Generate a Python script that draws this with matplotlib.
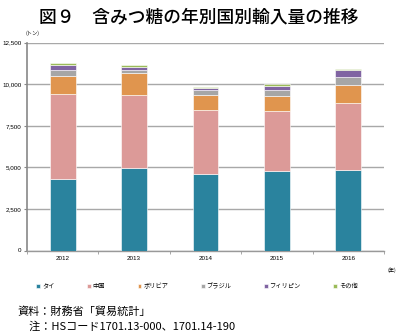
import numpy as np
import matplotlib
matplotlib.use("Agg")
import matplotlib.pyplot as plt

plt.rcParams['font.family'] = ['Noto Sans CJK JP', 'DejaVu Sans']

# data (tonnes)
years = ["2012", "2013", "2014", "2015", "2016"]
countries = ["タイ", "中国", "ボリビア", "ブラジル", "フィリピン", "その他"]
thai = [4310, 4990, 4620, 4790, 4870]
china = [5090, 4385, 3845, 3615, 4015]
bolivia = [1115, 1280, 870, 885, 1090]
brazil = [370, 210, 290, 355, 475]
philippines = [270, 185, 125, 265, 415]
others = [120, 80, 80, 105, 80]
yticks = [0, 2500, 5000, 7500, 10000, 12500]

series = [thai, china, bolivia, brazil, philippines, others]
colors = ["#2a839e", "#dc9a98", "#e0954e", "#a6a6a6", "#8064a2", "#9bbb59"]

fig = plt.figure(figsize=(3.98, 3.35), dpi=100)
ax = fig.add_axes([27/398, 1 - 250.5/335, 357/398, 207.8/335])

x = np.arange(len(years))
bottom = np.zeros(len(years))
bars = []
for vals, c, name in zip(series, colors, countries):
    b = ax.bar(x, vals, 0.36, bottom=bottom, color=c, label=name,
               edgecolor="white", linewidth=0.4, zorder=3)
    bars.append(b)
    bottom += np.array(vals)

ax.set_xlim(-0.5, len(years) - 0.5)
ax.set_ylim(0, 12500)
ax.set_yticks(yticks)
ax.set_yticklabels(["{:,}".format(v) for v in yticks], fontsize=4.5,
                   family="Liberation Sans")
ax.set_xticks(x)
ax.set_xticklabels(years, fontsize=4.5, family="Liberation Sans")
ax.set_xticks(np.arange(-0.5, len(years)), minor=True)
ax.tick_params(axis="x", which="major", length=0, pad=4)
ax.tick_params(axis="x", which="minor", length=2, color="#999999")
ax.tick_params(axis="y", length=2, color="#888888", pad=2)
ax.grid(axis="y", color="#a8a8a8", linewidth=1.0, zorder=0)
for s in ["top", "right"]:
    ax.spines[s].set_visible(False)
ax.spines["left"].set_color("#888888")
ax.spines["left"].set_linewidth(1.2)
ax.spines["bottom"].set_color("#999999")
ax.spines["bottom"].set_linewidth(1.0)

fig.text(0.5, 1 - 17/335, "図９　含みつ糖の年別国別輸入量の推移", ha="center",
         va="center", fontsize=12.8, fontweight="medium")
fig.text(33/398, 1 - 33/335, "(トン)", ha="center", va="center", fontsize=3.8)
fig.text(392/398, 1 - 270/335, "(年)", ha="center", va="center", fontsize=3.8)

leg = fig.legend(handles=bars, labels=countries, loc="center",
                 bbox_to_anchor=(197/398, 1 - 286/335), ncol=6, frameon=False,
                 fontsize=4.5, handlelength=0.6, handleheight=0.6,
                 handletextpad=0.3, columnspacing=5.2)

fig.text(18/398, 1 - 312/335, "資料：財務省「貿易統計」", ha="left", va="center",
         fontsize=8)
fig.text(18/398, 1 - 327/335, "　注：HSコード1701.13-000、1701.14-190",
         ha="left", va="center", fontsize=8)

fig.savefig("out.png", dpi=100)
